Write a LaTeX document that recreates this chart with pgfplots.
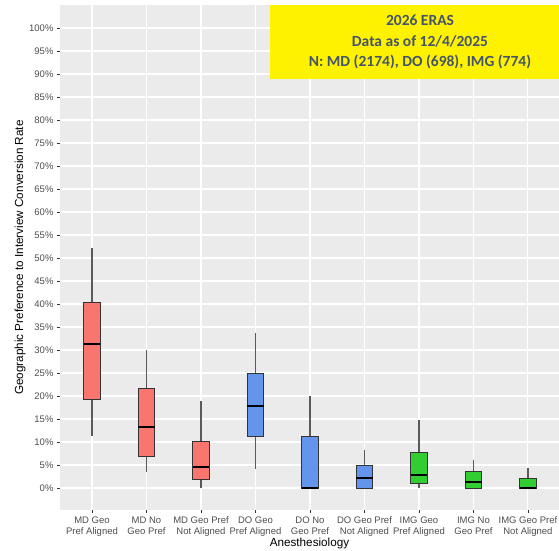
\documentclass[border=0pt]{standalone}
\usepackage{pgfplots}
\pgfplotsset{compat=1.18}
\usepgfplotslibrary{statistics}
\usepackage{fontspec}
\setmainfont{Liberation Sans}
\newfontfamily\calibri{Carlito}
\definecolor{ggbg}{HTML}{EBEBEB}
\definecolor{mdcol}{HTML}{F8766D}
\definecolor{docol}{HTML}{6495ED}
\definecolor{imgcol}{HTML}{32CD32}
\definecolor{ticklab}{HTML}{4D4D4D}
\definecolor{whisk}{HTML}{5A5A5A}
\definecolor{boxline}{HTML}{333333}
\definecolor{ytext}{HTML}{44546A}
\pgfplotsset{
  ggbox/.style={draw=boxline, line width=1pt,
    boxplot/every median/.style={black, line width=2pt},
    boxplot/every whisker/.style={whisk, line width=1.2pt}},
}
\begin{document}
\begin{tikzpicture}
\begin{axis}[
  scale only axis, width=499pt, height=505pt,
  xmin=0.413, xmax=9.57, ymin=-4.78, ymax=105,
  axis background/.style={fill=ggbg},
  axis line style={draw=none},
  xtick={1,...,9}, ytick={0,5,...,100},
  xticklabels={{MD Geo\\Pref Aligned},{MD No\\Geo Pref},{MD Geo Pref\\Not Aligned},{DO Geo\\Pref Aligned},{DO No\\Geo Pref},{DO Geo Pref\\Not Aligned},{IMG Geo\\Pref Aligned},{IMG No\\Geo Pref},{IMG Geo Pref\\Not Aligned}},
  yticklabels={0\%,5\%,10\%,15\%,20\%,25\%,30\%,35\%,40\%,45\%,50\%,55\%,60\%,65\%,70\%,75\%,80\%,85\%,90\%,95\%,100\%},
  tick align=outside, xtick pos=left, ytick pos=left,
  major tick length=3pt,
  tick style={boxline, line width=0.6pt},
  grid=major, major grid style={white, line width=1.1pt},
  xticklabel style={align=center, font=\fontsize{9.5}{11}\selectfont, text=ticklab},
  yticklabel style={font=\fontsize{9.5}{11}\selectfont, text=ticklab},
  xlabel={Anesthesiology}, ylabel={Geographic Preference to Interview Conversion Rate},
  xlabel style={font=\fontsize{11.7}{13}\selectfont, at={(axis description cs:0.5,0)}, anchor=center, yshift=-33pt},
  ylabel style={font=\fontsize{11.7}{13}\selectfont, at={(axis description cs:-0.0802,0.5)}, anchor=center},
  boxplot/draw direction=y,
  boxplot/box extend=0.3,
  boxplot/whisker extend=0,
]
\addplot[ggbox, fill=mdcol, boxplot prepared={draw position=1, lower whisker=11.3, lower quartile=19.2, median=31.3, upper quartile=40.3, upper whisker=52.2}] coordinates {};
\addplot[ggbox, fill=mdcol, boxplot prepared={draw position=2, lower whisker=3.5, lower quartile=6.8, median=13.3, upper quartile=21.6, upper whisker=29.9}] coordinates {};
\addplot[ggbox, fill=mdcol, boxplot prepared={draw position=3, lower whisker=0, lower quartile=1.9, median=4.5, upper quartile=10.1, upper whisker=19.0}] coordinates {};
\addplot[ggbox, fill=docol, boxplot prepared={draw position=4, lower whisker=4.1, lower quartile=11.3, median=17.8, upper quartile=24.9, upper whisker=33.6}] coordinates {};
\addplot[ggbox, fill=docol, boxplot prepared={draw position=5, lower whisker=0, lower quartile=0, median=0, upper quartile=11.2, upper whisker=19.9}] coordinates {};
\addplot[ggbox, fill=docol, boxplot prepared={draw position=6, lower whisker=0, lower quartile=0, median=2.2, upper quartile=4.9, upper whisker=8.3}] coordinates {};
\addplot[ggbox, fill=imgcol, boxplot prepared={draw position=7, lower whisker=0, lower quartile=0.9, median=2.9, upper quartile=7.7, upper whisker=14.8}] coordinates {};
\addplot[ggbox, fill=imgcol, boxplot prepared={draw position=8, lower whisker=0, lower quartile=0, median=1.2, upper quartile=3.5, upper whisker=6.1}] coordinates {};
\addplot[ggbox, fill=imgcol, boxplot prepared={draw position=9, lower whisker=0, lower quartile=0, median=0, upper quartile=2.1, upper whisker=4.3}] coordinates {};
\end{axis}
\fill[yellow] (210pt,431pt) rectangle (520pt,505pt);
\node[align=center, font=\calibri\bfseries\fontsize{15.5}{20.5}\selectfont, text=ytext] at (360pt,468pt) {2026 ERAS\\Data as of 12/4/2025\\N: MD (2174), DO (698), IMG (774)};
\pgfresetboundingbox
\path (-60pt,-40pt) rectangle (499pt,510pt);
\end{tikzpicture}
\end{document}
